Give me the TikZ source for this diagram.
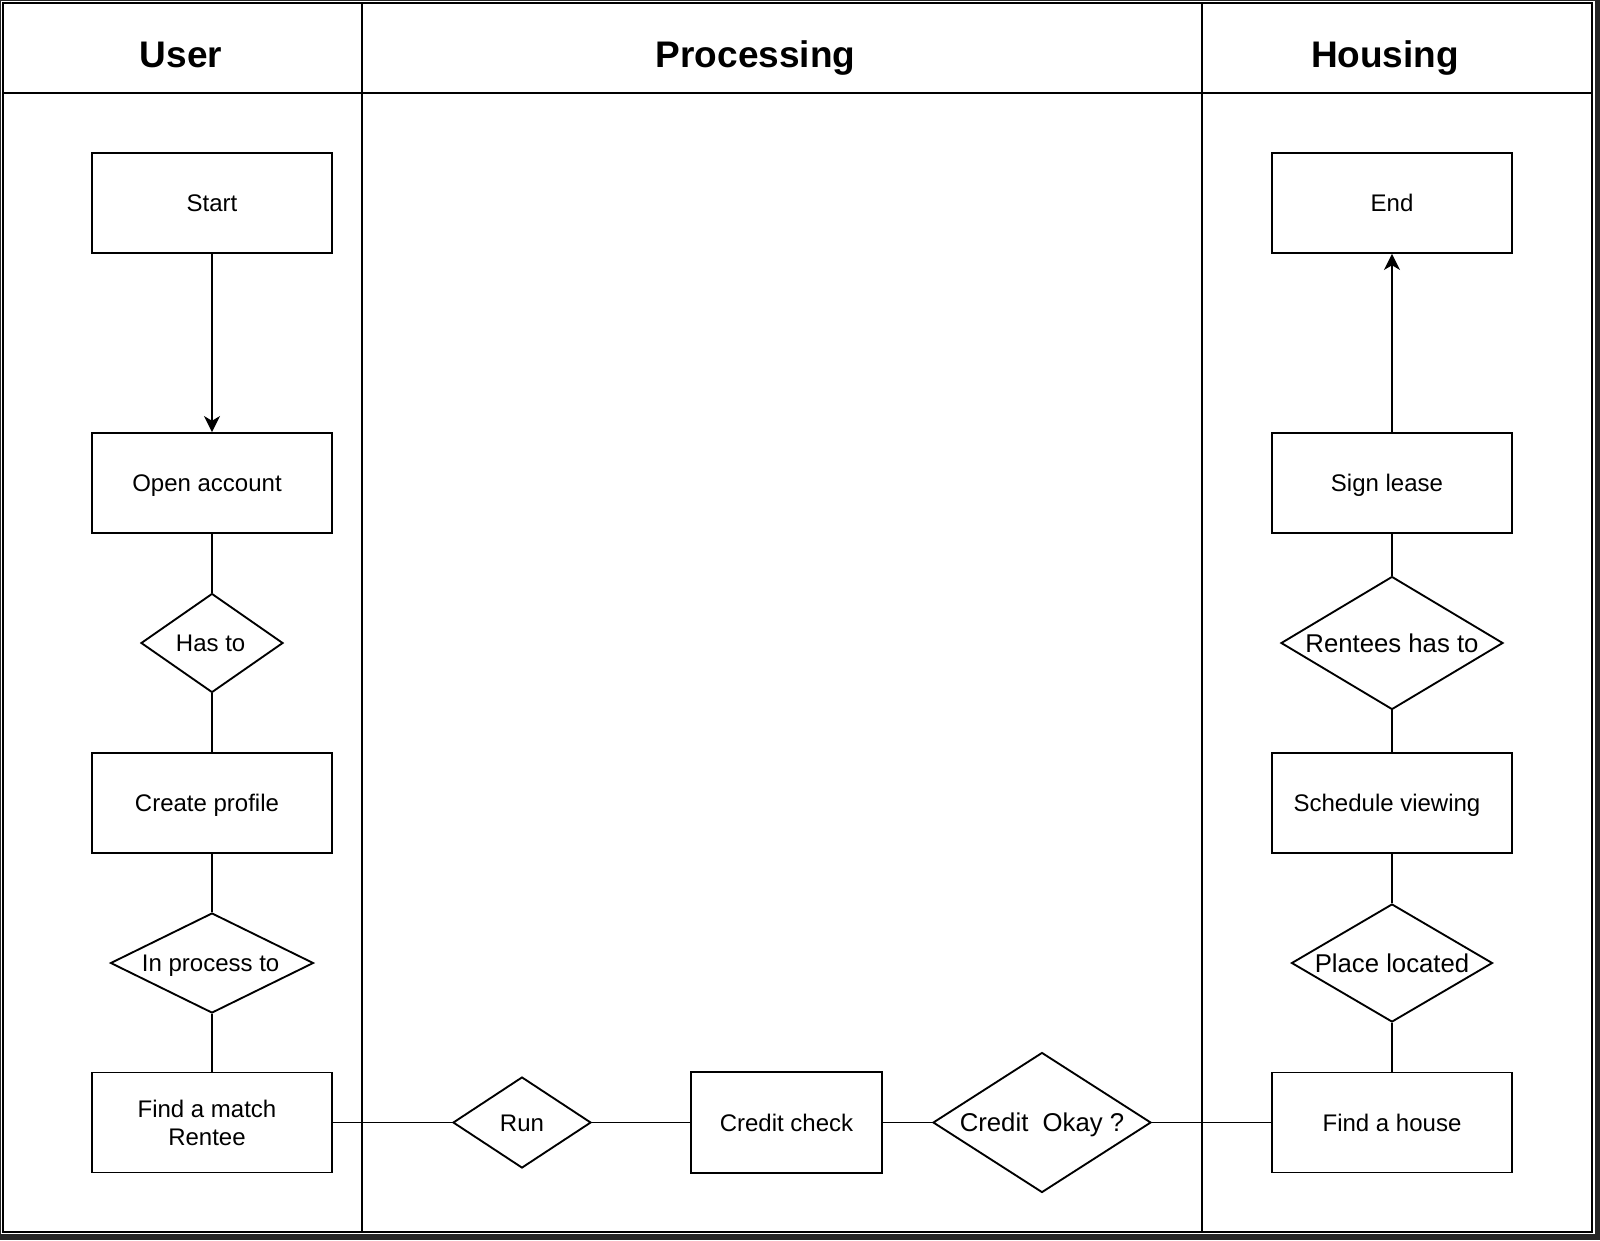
\documentclass[tikz,border=0pt]{standalone}
\usepackage{fontspec}
\setmainfont{Liberation Sans}
\usetikzlibrary{shapes.geometric,arrows.meta}
\newcommand{\padR}{\hspace*{7.5pt}}
\begin{document}
\begin{tikzpicture}[x=0.75pt,y=-0.75pt,
  every path/.style={line width=1.4pt},
  lane/.style={draw=black, line width=1.4pt},
  box/.style={draw=black, line width=1.4pt, rectangle, minimum width=180pt, minimum height=75pt, inner sep=0pt, align=center, text height=12.9pt, text depth=0pt, font=\fontsize{18}{21}\selectfont},
  dia/.style={draw=black, line width=1.4pt, shape=diamond, inner sep=0pt, align=center, text height=12.9pt, text depth=0pt, font=\fontsize{18}{21}\selectfont},
  bigtext/.style={font=\fontsize{19.3}{22}\selectfont, text height=13.8pt},
  head/.style={anchor=base, font=\fontsize{27.75}{33}\selectfont\bfseries},
  link/.style={draw=black, line width=1.4pt},
  arr/.style={link, -{Stealth[length=12pt,width=12pt,inset=3.5pt]}}
]
\useasboundingbox (0,0) rectangle (1600,1240);
\fill[black!85] (0,0) rectangle (1600,1240);
\fill[white] (1,1) rectangle (1595,1234);
\draw[lane] (3,3) rectangle (1592,1232);
\draw[lane] (3,93) -- (1592,93);
\draw[lane] (362,3) -- (362,1232);
\draw[lane] (1202,3) -- (1202,1232);

\node[head] (hUser) at (181,67) {User};
\node[head] (hProc) at (755.5,67) {Processing};
\node[head] (hHouse) at (1385,67) {Housing};

% User lane
\node[box] (start) at (212,203) {Start};
\node[box] (open) at (212,483) {Open account\padR};
\node[dia, minimum width=106.5pt, minimum height=74.25pt, shape aspect=1.434] (has) at (212,643) {Has to\hspace*{2pt}};
\node[box] (create) at (212,803) {Create profile\padR};
\node[dia, minimum width=152.25pt, minimum height=75pt, shape aspect=2.03] (inproc) at (212,963) {In process to\hspace*{2pt}};
\node[box, text height=33.9pt, text depth=0pt] (find) at (212,1122.5) {Find a match\padR\\Rentee\padR};

% Processing lane
\node[dia, minimum width=103.5pt, minimum height=68.25pt, shape aspect=1.52] (run) at (522,1122.5) {Run};
\node[box, minimum width=143.25pt, minimum height=75.75pt] (ccheck) at (786.5,1122.5) {Credit check};
\node[dia, bigtext, minimum width=163.5pt, minimum height=105pt, shape aspect=1.557] (okay) at (1042,1122.5) {Credit~~Okay ?};

% Housing lane
\node[box] (end) at (1392,203) {End};
\node[box] (sign) at (1392,483) {Sign lease\padR};
\node[dia, bigtext, minimum width=166.5pt, minimum height=99.75pt, shape aspect=1.67] (rentees) at (1392,643) {Rentees has to};
\node[box] (sched) at (1392,803) {Schedule viewing\padR};
\node[dia, bigtext, minimum width=150.75pt, minimum height=88.5pt, shape aspect=1.70] (place) at (1392,963) {Place located};
\node[box] (house) at (1392,1122.5) {Find a house};

% connectors
\draw[arr] (start) -- (open);
\draw[link] (open) -- (has);
\draw[link] (has) -- (create);
\draw[link] (create) -- (inproc);
\draw[link] (inproc) -- (find);
\draw[link] (find) -- (run);
\draw[link] (run) -- (ccheck);
\draw[link] (ccheck) -- (okay);
\draw[link] (okay) -- (house);
\draw[link] (house) -- (place);
\draw[link] (place) -- (sched);
\draw[link] (sched) -- (rentees);
\draw[link] (rentees) -- (sign);
\draw[arr] (sign) -- (end);
\end{tikzpicture}
\end{document}
